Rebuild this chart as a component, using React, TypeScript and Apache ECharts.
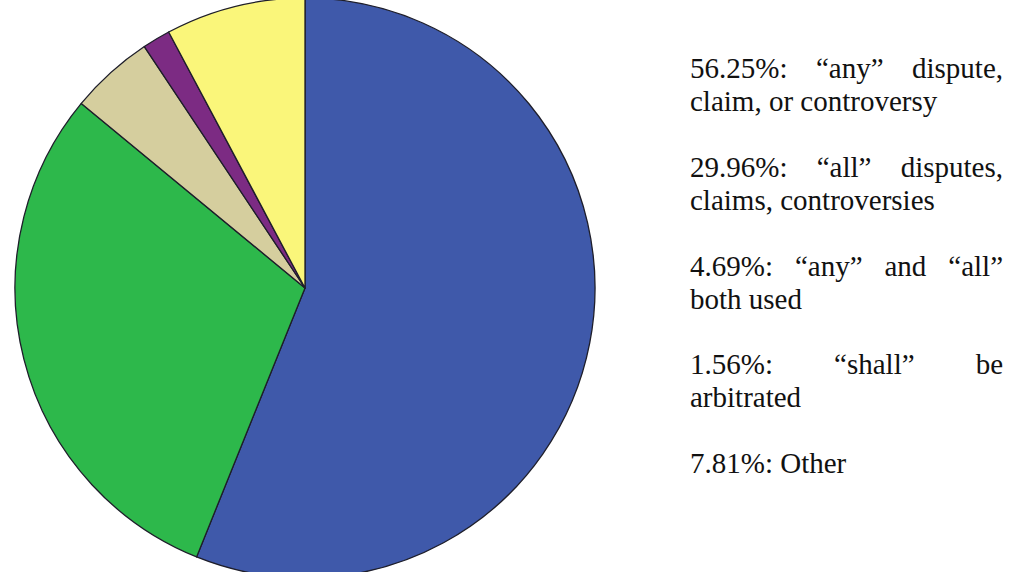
import React, { useEffect, useRef } from "react";
import * as echarts from "echarts";

const categories = [
  "“any” dispute, claim, or controversy",
  "“all” disputes, claims, controversies",
  "“any” and “all” both used",
  "“shall” be arbitrated",
  "Other",
];
const shares = [56.25, 29.96, 4.69, 1.56, 7.81];
const colors = ["#3f59aa", "#2db84b", "#d5ce9e", "#7c2b83", "#faf67a"];
// legend text, as laid out in the reference (first line justified)
const legendLines: string[][] = [
  ["56.25%: “any” dispute,", "claim, or controversy"],
  ["29.96%: “all” disputes,", "claims, controversies"],
  ["4.69%: “any” and “all”", "both used"],
  ["1.56%: “shall” be", "arbitrated"],
  ["7.81%: Other"],
];

const FONT_FAMILY = "Liberation Serif";
const FONT_SIZE = 29;

export default function App() {
  const ref = useRef<HTMLDivElement>(null);
  useEffect(() => {
    document.body.style.margin = "0";
    if (!ref.current) return;
    const chart = echarts.init(ref.current, undefined, { renderer: "svg" });

    const canvas = document.createElement("canvas");
    const ctx = canvas.getContext("2d")!;
    ctx.font = `${FONT_SIZE}px "${FONT_FAMILY}"`;

    const L = 690;
    const R = 1003;
    const firstBaseline = 78;
    const blockStep = 98.75;
    const lineStep = 33;
    const centralOffset = 9.8;

    const textStyle = {
      fontFamily: FONT_FAMILY,
      fontSize: FONT_SIZE,
      fill: "#111",
      align: "left",
      verticalAlign: "middle",
    };

    const texts: any[] = [];
    legendLines.forEach((lines, i) => {
      lines.forEach((line, j) => {
        const y = firstBaseline + i * blockStep + j * lineStep - centralOffset;
        const justify = j === 0 && lines.length > 1;
        if (!justify) {
          texts.push({ type: "text", x: L, y, style: { ...textStyle, text: line } });
        } else {
          const words = line.split(" ");
          const widths = words.map((w) => ctx.measureText(w).width);
          const total = widths.reduce((a, b) => a + b, 0);
          const gap = (R - L - total) / (words.length - 1);
          let x = L;
          words.forEach((w, k) => {
            texts.push({ type: "text", x, y, style: { ...textStyle, text: w } });
            x += widths[k] + gap;
          });
        }
      });
    });

    chart.setOption({
      animation: false,
      backgroundColor: "#ffffff",
      series: [
        {
          type: "pie",
          center: [305, 288],
          radius: 290,
          startAngle: 90,
          clockwise: true,
          label: { show: false },
          labelLine: { show: false },
          emphasis: { disabled: true },
          itemStyle: { borderColor: "#1e1e2a", borderWidth: 1.3 },
          data: categories.map((name, i) => ({
            name,
            value: shares[i],
            itemStyle: { color: colors[i] },
          })),
        },
      ],
      graphic: texts,
    });
    return () => chart.dispose();
  }, []);
  return <div ref={ref} style={{ width: 1009, height: 572 }} />;
}
